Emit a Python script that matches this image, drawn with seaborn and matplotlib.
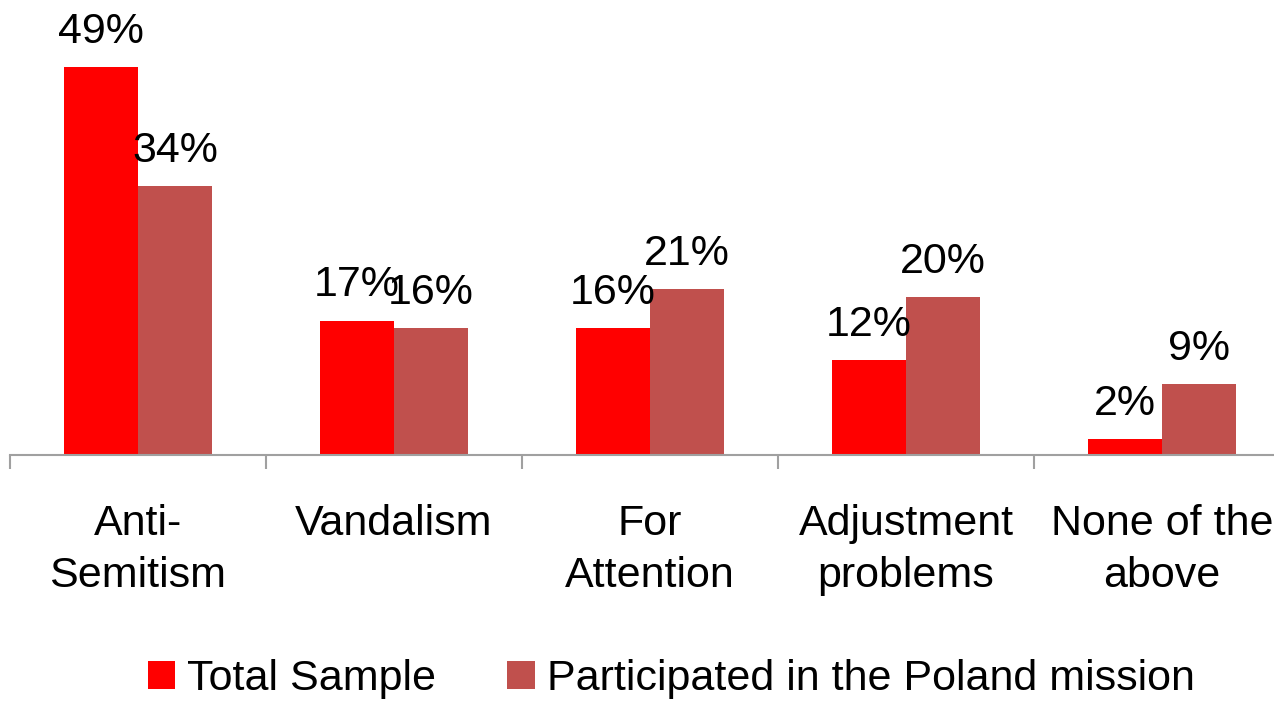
import matplotlib
matplotlib.use("Agg")
import matplotlib.pyplot as plt
import seaborn as sns
import pandas as pd
from matplotlib.ticker import FixedLocator

categories = ["Anti-\nSemitism", "Vandalism", "For\nAttention", "Adjustment\nproblems", "None of the\nabove"]
series_names = ["Total Sample", "Participated in the Poland mission"]
total_sample = [49, 17, 16, 12, 2]
poland_mission = [34, 16, 21, 20, 9]
colors = ["#FF0000", "#C0504D"]

df = pd.DataFrame({
    "category": categories * 2,
    "series": [series_names[0]] * len(categories) + [series_names[1]] * len(categories),
    "value": total_sample + poland_mission,
})

sns.set_theme(style="white")
plt.rcParams['font.family'] = ['Liberation Sans', 'DejaVu Sans']
plt.rcParams['text.color'] = 'black'
plt.rcParams['xtick.color'] = 'black'

FS = 31

fig = plt.figure(figsize=(12.74, 7.01), dpi=100)
ax = fig.add_axes([10 / 1274, (701 - 455) / 701, 1280 / 1274, 435 / 701])

sns.barplot(data=df, x="category", y="value", hue="series", order=categories,
            hue_order=series_names, palette=colors, width=0.58, gap=0,
            saturation=1, ax=ax, legend=True, linewidth=0)

ax.set_xlim(-0.5, 4.5)
ax.set_ylim(0, 55)
ax.set_xlabel("")
ax.set_ylabel("")
ax.set_yticks([])
for s in ["top", "right", "left"]:
    ax.spines[s].set_visible(False)
ax.spines["bottom"].set_color("#A0A0A0")
ax.spines["bottom"].set_linewidth(1.5)

ax.xaxis.set_major_locator(FixedLocator([-0.5, 0.5, 1.5, 2.5, 3.5, 4.5]))
ax.set_xticklabels([""] * 6)
ax.xaxis.set_minor_locator(FixedLocator(range(len(categories))))
ax.set_xticklabels(categories, minor=True, fontsize=FS, va="top", linespacing=1.38, color="black")
ax.tick_params(axis="x", which="major", length=10, width=1.5, color="#A0A0A0", direction="out", bottom=True)
ax.tick_params(axis="x", which="minor", length=0, pad=35.5)

for cont in ax.containers:
    labels = [f"{int(round(b.get_height()))}%" for b in cont]
    ax.bar_label(cont, labels=labels, padding=11, fontsize=FS, color="black")

handles, labs = ax.get_legend_handles_labels()
ax.get_legend().remove()
fig.legend(handles, labs, loc="lower center", bbox_to_anchor=(0.527, -0.022), ncol=2,
           frameon=False, fontsize=FS, handlelength=0.63, handleheight=0.63,
           handletextpad=0.28, columnspacing=1.65, borderaxespad=0, labelcolor="black")

fig.savefig("out.png", dpi=100)
